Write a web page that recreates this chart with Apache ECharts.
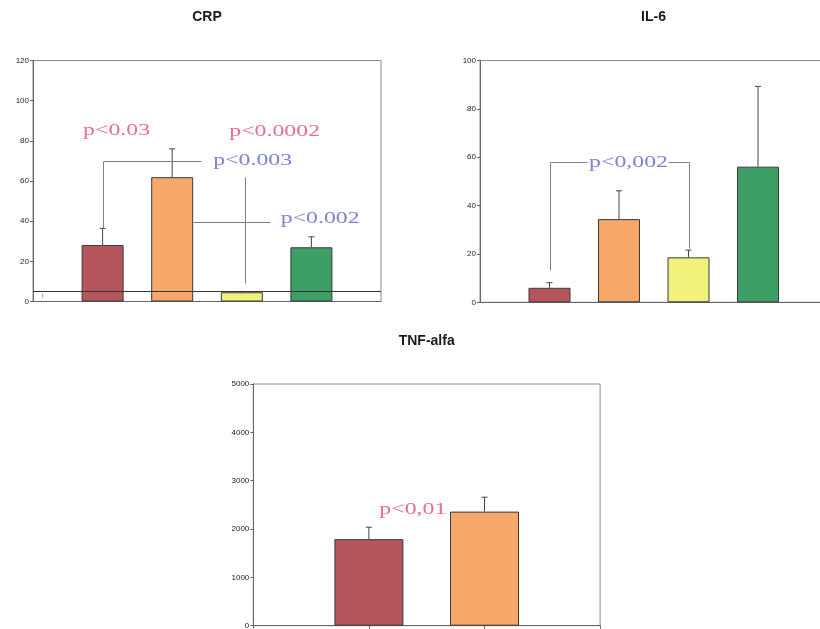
<!DOCTYPE html>
<html><head><meta charset="utf-8">
<script src="https://cdn.jsdelivr.net/npm/echarts@6/dist/echarts.min.js"></script>
<style>html,body{margin:0;padding:0;background:#fff}#c{width:820px;height:629px}</style>
</head><body><div id="c"></div>
<script>
// ---- data ----
const groups = ['G1', 'G2', 'G3', 'G4'];
const crpMean = [28.1, 61.9, 4.6, 27.0];
const crpErr  = [8.3, 14.1, 0.4, 5.2];
const crpRef  = 5.2;
const il6Mean = [6.0, 34.4, 18.6, 56.1];
const il6Err  = [2.1, 11.7, 3.0, 33.2];
const tnfGroups = ['G1', 'G2'];
const tnfMean = [1790, 2360];
const tnfErr  = [247, 298];
const crpTicks = {min: 0, max: 120, interval: 20};
const il6Ticks = {min: 0, max: 100, interval: 20};
const tnfTicks = {min: 0, max: 5000, interval: 1000};
const titles = ['CRP', 'IL-6', 'TNF-alfa'];

// ---- styles ----
const barColors = ['#b5565c', '#f6a86b', '#f1f27c', '#3d9f66'];
const pink = '#e96f8c', blue = '#7f82d6', lineCol = '#808080';

const chart = echarts.init(document.getElementById('c'), null, {renderer: 'canvas'});

const grids = [
  {left: 33, top: 60.5, width: 348, height: 241},
  {left: 480, top: 60.5, width: 347.5, height: 241.8},
  {left: 253.3, top: 384, width: 346.8, height: 241.7}
].map(g => Object.assign({show: true, borderColor: '#8a8a8a', borderWidth: 1, backgroundColor: 'transparent', containLabel: false, outerBoundsMode: 'none'}, g));

function xAx(gi, n, ticks) {
  return {type: 'value', gridIndex: gi, min: 0, max: n + 1, interval: 1,
    axisLine: {show: true, lineStyle: {color: '#666', width: 1}},
    axisTick: {show: ticks, length: 3, inside: false, lineStyle: {color: '#666'}},
    axisLabel: {show: false}, splitLine: {show: false}};
}
function yAx(gi, t) {
  return {type: 'value', gridIndex: gi, min: t.min, max: t.max, interval: t.interval,
    axisLine: {show: true, lineStyle: {color: '#666', width: 1}},
    axisTick: {show: true, length: 3, lineStyle: {color: '#666'}},
    axisLabel: {show: true, fontSize: 8, color: '#222', fontFamily: 'Liberation Sans', margin: 4,
      formatter: v => String(v)},
    splitLine: {show: false}};
}

function barSeries(gi, means, width, extra) {
  return Object.assign({
    type: 'bar', xAxisIndex: gi, yAxisIndex: gi, barWidth: width,
    data: means.map((v, i) => ({value: [i + 1, v], itemStyle: {color: barColors[i], borderColor: '#3a3a3a', borderWidth: 1}})),
    animation: false, z: 2
  }, extra || {});
}
function errSeries(gi, means, errs) {
  return {
    type: 'custom', xAxisIndex: gi, yAxisIndex: gi, z: 3, animation: false,
    data: means.map((v, i) => [i + 1, v, errs[i]]),
    encode: {x: 0, y: 1},
    renderItem: function (params, api) {
      const x = api.value(0), y = api.value(1), e = api.value(2);
      const p0 = api.coord([x, y]), p1 = api.coord([x, y + e]);
      const st = {stroke: '#444', lineWidth: 1};
      return {type: 'group', children: [
        {type: 'line', shape: {x1: p0[0], y1: p0[1], x2: p1[0], y2: p1[1]}, style: st},
        {type: 'line', shape: {x1: p1[0] - 3, y1: p1[1], x2: p1[0] + 3, y2: p1[1]}, style: st}
      ]};
    }
  };
}

const titleCenters = [[207, 10.5], [653.5, 10.5], [426.7, 334.5]];
chart.setOption({
  animation: false,
  title: titles.map((t, i) => ({text: t, left: titleCenters[i][0], top: titleCenters[i][1], textAlign: 'center', padding: 0,
    textStyle: {fontSize: 14, fontWeight: 'bold', fontFamily: 'Liberation Sans', color: '#1a1a1a'}})),
  grid: grids,
  xAxis: [xAx(0, groups.length, false), xAx(1, groups.length, false), xAx(2, tnfGroups.length, true)],
  yAxis: [yAx(0, crpTicks), yAx(1, il6Ticks), yAx(2, tnfTicks)],
  series: [
    barSeries(0, crpMean, 42, {markLine: {silent: true, symbol: 'none', label: {show: false},
      lineStyle: {color: '#333', width: 1, type: 'solid'}, data: [{yAxis: crpRef}]}}),
    errSeries(0, crpMean, crpErr),
    barSeries(1, il6Mean, 42),
    errSeries(1, il6Mean, il6Err),
    barSeries(2, tnfMean, 69),
    errSeries(2, tnfMean, tnfErr)
  ]
});

// ---- annotations (in data units of each panel) ----
const labels = [
  {g: 0, x: 0.72, y: 84.9, text: 'p<0.03', color: pink},
  {g: 0, x: 2.82, y: 84.4, text: 'p<0.0002', color: pink},
  {g: 0, x: 2.59, y: 70.2, text: 'p<0.003', color: blue},
  {g: 0, x: 3.56, y: 41.1, text: 'p<0.002', color: blue},
  {g: 1, x: 1.57, y: 57.9, text: 'p<0,002', color: blue},
  {g: 2, x: 1.09, y: 2393, text: 'p<0,01', color: pink}
];
const brackets = [
  {g: 0, pts: [[1, crpMean[0] + crpErr[0]], [1, 70.1], [2.42, 70.1]]},
  {g: 0, pts: [[3.04, 62.1], [3.04, 9.2]]},
  {g: 0, pts: [[2.3, 39.7], [3.41, 39.7]]},
  {g: 1, pts: [[1, 13.4], [1, 58.1], [1.54, 58.1]]},
  {g: 1, pts: [[2.70, 58.1], [3, 58.1], [3, 22.5]]}
];
const toPx = (g, p) => chart.convertToPixel({gridIndex: g}, p);
const elements = [];
brackets.forEach(b => {
  elements.push({type: 'polyline', silent: true, z: 10,
    shape: {points: b.pts.map(p => { const q = toPx(b.g, p); return [Math.round(q[0]) + 0.5, Math.round(q[1]) + 0.5]; })},
    style: {stroke: lineCol, lineWidth: 1, fill: null}});
});
labels.forEach(l => {
  const q = toPx(l.g, [l.x, l.y]);
  elements.push({type: 'text', silent: true, z: 11, x: q[0], y: q[1], scaleX: 1.4, scaleY: 1,
    style: {text: l.text, fill: l.color, font: '17px "Liberation Serif"', fontSize: 17, fontFamily: 'Liberation Serif',
      textAlign: 'left', textVerticalAlign: 'middle', align: 'left', verticalAlign: 'middle'}});
});
const rp = toPx(0, [0.14, 2.7]);
elements.push({type: 'text', silent: true, z: 11, x: rp[0], y: rp[1],
  style: {text: 'r', fill: '#888', font: 'italic 7px "Liberation Serif"', fontSize: 7, textAlign: 'center', textVerticalAlign: 'middle', align: 'center', verticalAlign: 'middle'}});
chart.setOption({graphic: {elements: elements}});
</script>
</body></html>
